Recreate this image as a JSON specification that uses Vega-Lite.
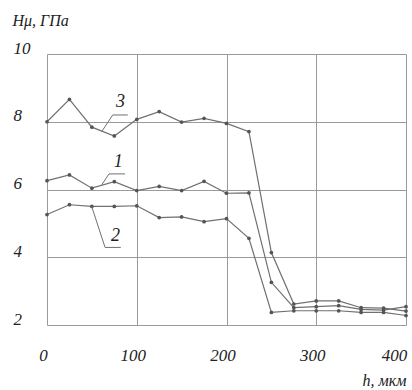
{
  "$schema": "https://vega.github.io/schema/vega-lite/v6.json",
  "width": 359,
  "height": 271,
  "autosize": {"type": "none"},
  "padding": {"left": 47, "top": 54, "right": 6, "bottom": 65},
  "background": "white",
  "config": {"view": {"stroke": null}, "font": "Liberation Serif"},
  "datasets": {
    "curves": [
      {"curve": "3", "h": 0, "v": 8.0}, {"curve": "3", "h": 25, "v": 8.66}, {"curve": "3", "h": 50, "v": 7.84}, {"curve": "3", "h": 75, "v": 7.58}, {"curve": "3", "h": 100, "v": 8.07}, {"curve": "3", "h": 125, "v": 8.3}, {"curve": "3", "h": 150, "v": 7.99}, {"curve": "3", "h": 175, "v": 8.1}, {"curve": "3", "h": 200, "v": 7.95}, {"curve": "3", "h": 225, "v": 7.71}, {"curve": "3", "h": 250, "v": 4.14}, {"curve": "3", "h": 275, "v": 2.62}, {"curve": "3", "h": 300, "v": 2.71}, {"curve": "3", "h": 325, "v": 2.71}, {"curve": "3", "h": 350, "v": 2.51}, {"curve": "3", "h": 375, "v": 2.5}, {"curve": "3", "h": 400, "v": 2.41},
      {"curve": "1", "h": 0, "v": 6.26}, {"curve": "1", "h": 25, "v": 6.43}, {"curve": "1", "h": 50, "v": 6.04}, {"curve": "1", "h": 75, "v": 6.23}, {"curve": "1", "h": 100, "v": 5.97}, {"curve": "1", "h": 125, "v": 6.09}, {"curve": "1", "h": 150, "v": 5.97}, {"curve": "1", "h": 175, "v": 6.24}, {"curve": "1", "h": 200, "v": 5.89}, {"curve": "1", "h": 225, "v": 5.9}, {"curve": "1", "h": 250, "v": 3.26}, {"curve": "1", "h": 275, "v": 2.51}, {"curve": "1", "h": 300, "v": 2.54}, {"curve": "1", "h": 325, "v": 2.57}, {"curve": "1", "h": 350, "v": 2.46}, {"curve": "1", "h": 375, "v": 2.44}, {"curve": "1", "h": 400, "v": 2.54},
      {"curve": "2", "h": 0, "v": 5.26}, {"curve": "2", "h": 25, "v": 5.55}, {"curve": "2", "h": 50, "v": 5.5}, {"curve": "2", "h": 75, "v": 5.5}, {"curve": "2", "h": 100, "v": 5.52}, {"curve": "2", "h": 125, "v": 5.17}, {"curve": "2", "h": 150, "v": 5.19}, {"curve": "2", "h": 175, "v": 5.05}, {"curve": "2", "h": 200, "v": 5.14}, {"curve": "2", "h": 225, "v": 4.56}, {"curve": "2", "h": 250, "v": 2.37}, {"curve": "2", "h": 275, "v": 2.42}, {"curve": "2", "h": 300, "v": 2.42}, {"curve": "2", "h": 325, "v": 2.42}, {"curve": "2", "h": 350, "v": 2.37}, {"curve": "2", "h": 375, "v": 2.37}, {"curve": "2", "h": 400, "v": 2.28}
    ],
    "leaders": [
      {"leader": "3", "o": 1, "h": 61, "v": 7.71}, {"leader": "3", "o": 2, "h": 73.2, "v": 8.2}, {"leader": "3", "o": 3, "h": 90, "v": 8.2},
      {"leader": "1", "o": 1, "h": 61, "v": 6.14}, {"leader": "1", "o": 2, "h": 69.1, "v": 6.46}, {"leader": "1", "o": 3, "h": 87, "v": 6.46},
      {"leader": "2", "o": 1, "h": 49.8, "v": 5.5}, {"leader": "2", "o": 2, "h": 64.7, "v": 4.29}, {"leader": "2", "o": 3, "h": 82.2, "v": 4.29}
    ],
    "labels": [
      {"label": "3", "h": 82, "v": 8.57},
      {"label": "1", "h": 79.5, "v": 6.8},
      {"label": "2", "h": 76.2, "v": 4.62}
    ]
  },
  "layer": [
    {
      "data": {"name": "curves"},
      "mark": {"type": "line", "color": "#707070", "strokeWidth": 1.2, "point": {"filled": true, "size": 14, "color": "#555555", "opacity": 1}},
      "encoding": {
        "x": {
          "field": "h", "type": "quantitative",
          "scale": {"domain": [0, 400], "nice": false},
          "axis": {
            "values": [0, 100, 200, 300, 400],
            "grid": true, "gridColor": "#9a9a9a", "gridWidth": 1,
            "domain": false, "ticks": false,
            "labelFont": "Liberation Serif", "labelFontStyle": "italic", "labelFontSize": 17, "labelColor": "#222222",
            "labelBaseline": "middle", "labelPadding": 30, "labelFlush": false, "labelOverlap": false,
            "labelOffset": {"condition": {"test": "datum.value == 400", "value": -12}, "value": -4},
            "title": "h, мкм",
            "titleFont": "Liberation Serif", "titleFontStyle": "italic", "titleFontWeight": "normal", "titleFontSize": 16, "titleColor": "#222222",
            "titleAlign": "right", "titleAnchor": null, "titleX": 359, "titleY": 55, "titleBaseline": "middle"
          }
        },
        "y": {
          "field": "v", "type": "quantitative",
          "scale": {"domain": [2, 10], "nice": false, "zero": false},
          "axis": {
            "values": [2, 4, 6, 8, 10],
            "grid": true, "gridColor": "#9a9a9a", "gridWidth": 1,
            "domain": false, "ticks": false,
            "labelFont": "Liberation Serif", "labelFontStyle": "italic", "labelFontSize": 17, "labelColor": "#222222",
            "labelAlign": "left", "labelBaseline": "middle", "labelPadding": 34, "labelOffset": -6, "labelFlush": false, "labelOverlap": false,
            "title": "Hμ, ГПа",
            "titleFont": "Liberation Serif", "titleFontStyle": "italic", "titleFontWeight": "normal", "titleFontSize": 16, "titleColor": "#222222",
            "titleAngle": 0, "titleAlign": "left", "titleAnchor": null, "titleX": -35, "titleY": -34, "titleBaseline": "middle"
          }
        },
        "detail": {"field": "curve"}
      }
    },
    {
      "data": {"name": "leaders"},
      "mark": {"type": "line", "color": "#707070", "strokeWidth": 1},
      "encoding": {
        "x": {"field": "h", "type": "quantitative"},
        "y": {"field": "v", "type": "quantitative"},
        "detail": {"field": "leader"},
        "order": {"field": "o"}
      }
    },
    {
      "data": {"name": "labels"},
      "mark": {"type": "text", "font": "Liberation Serif", "fontStyle": "italic", "fontSize": 18, "color": "#222222", "align": "center", "baseline": "middle"},
      "encoding": {
        "x": {"field": "h", "type": "quantitative"},
        "y": {"field": "v", "type": "quantitative"},
        "text": {"field": "label"}
      }
    }
  ]
}
